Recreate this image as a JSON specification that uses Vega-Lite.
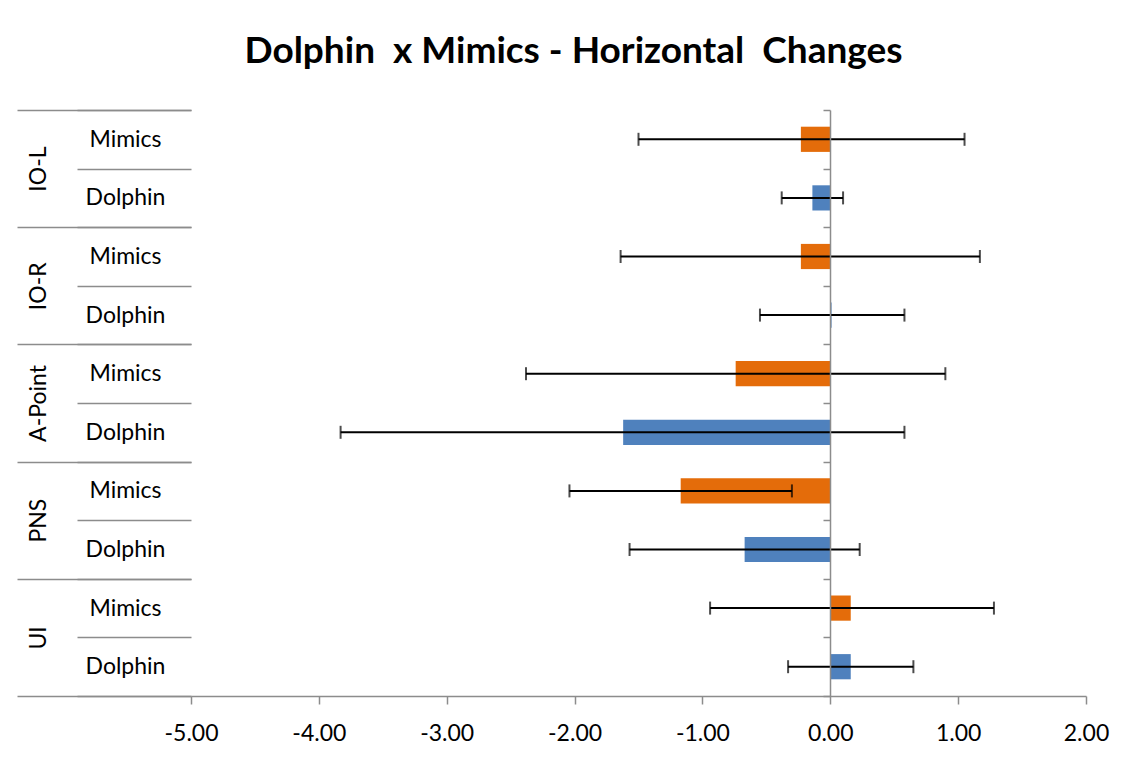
{
  "$schema": "https://vega.github.io/schema/vega-lite/v6.json",
  "width": 895,
  "height": 586,
  "autosize": {"type": "none"},
  "padding": {"left": 191, "top": 110, "right": 48, "bottom": 67},
  "background": "white",
  "config": {
    "view": {"stroke": null},
    "font": "Lato",
    "axis": {
      "labelFont": "Lato",
      "labelFontSize": 23,
      "labelColor": "black",
      "domainColor": "#8C8C8C",
      "tickColor": "#8C8C8C",
      "domainWidth": 1.5,
      "tickWidth": 1.5,
      "grid": false,
      "title": null
    }
  },
  "title": {
    "text": "Dolphin\u00a0 x Mimics - Horizontal\u00a0 Changes",
    "font": "Lato",
    "fontSize": 37,
    "fontWeight": "bold",
    "color": "black",
    "anchor": "middle",
    "frame": "group",
    "dx": -65,
    "offset": 28
  },
  "data": {
    "values": [
      {"group": "IO-L", "series": "Mimics", "key": "IO-L|Mimics", "value": -0.23, "lo": -1.50, "hi": 1.05},
      {"group": "IO-L", "series": "Dolphin", "key": "IO-L|Dolphin", "value": -0.14, "lo": -0.38, "hi": 0.10},
      {"group": "IO-R", "series": "Mimics", "key": "IO-R|Mimics", "value": -0.23, "lo": -1.64, "hi": 1.17},
      {"group": "IO-R", "series": "Dolphin", "key": "IO-R|Dolphin", "value": 0.01, "lo": -0.55, "hi": 0.58},
      {"group": "A-Point", "series": "Mimics", "key": "A-Point|Mimics", "value": -0.74, "lo": -2.38, "hi": 0.90},
      {"group": "A-Point", "series": "Dolphin", "key": "A-Point|Dolphin", "value": -1.62, "lo": -3.83, "hi": 0.58},
      {"group": "PNS", "series": "Mimics", "key": "PNS|Mimics", "value": -1.17, "lo": -2.04, "hi": -0.30},
      {"group": "PNS", "series": "Dolphin", "key": "PNS|Dolphin", "value": -0.67, "lo": -1.57, "hi": 0.23},
      {"group": "UI", "series": "Mimics", "key": "UI|Mimics", "value": 0.16, "lo": -0.94, "hi": 1.28},
      {"group": "UI", "series": "Dolphin", "key": "UI|Dolphin", "value": 0.16, "lo": -0.33, "hi": 0.65}
    ]
  },
  "layer": [
    {
      "mark": {"type": "bar", "height": {"band": 0.43}},
      "encoding": {
        "y": {
          "field": "key", "type": "nominal", "sort": null,
          "scale": {"type": "band", "padding": 0},
          "axis": {
            "orient": "left", "tickBand": "extent", "tickSize": 114, "domain": false,
            "labelExpr": "split(datum.value, '|')[1]",
            "labelAlign": "center", "labelBaseline": "middle", "labelPadding": -48,
            "labelOverlap": false
          }
        },
        "x": {
          "field": "value", "type": "quantitative",
          "scale": {"domain": [-5, 2], "nice": false, "zero": false},
          "axis": {
            "values": [-5, -4, -3, -2, -1, 0, 1, 2],
            "labelExpr": "(datum.value < 0 ? '-' : '') + format(abs(datum.value), '.2f')",
            "tickSize": 8, "labelFlush": false, "labelPadding": 18, "labelOverlap": false
          }
        },
        "color": {
          "field": "series", "type": "nominal",
          "scale": {"domain": ["Dolphin", "Mimics"], "range": ["#4F81BD", "#E46C0A"]},
          "legend": null
        }
      }
    },
    {
      "mark": {"type": "rule", "color": "black", "strokeWidth": 2},
      "encoding": {
        "y": {
          "field": "key", "type": "nominal", "sort": null,
          "scale": {"type": "band", "padding": 0},
          "axis": {
            "orient": "left", "offset": -639, "tickBand": "extent", "tickSize": 7,
            "labels": false, "zindex": 1
          }
        },
        "x": {"field": "lo", "type": "quantitative"},
        "x2": {"field": "hi"}
      }
    },
    {
      "mark": {"type": "tick", "color": "black", "thickness": 2, "size": 13},
      "encoding": {
        "y": {"field": "key", "type": "nominal", "sort": null, "scale": {"type": "band", "padding": 0}, "axis": null},
        "x": {"field": "lo", "type": "quantitative"}
      }
    },
    {
      "mark": {"type": "tick", "color": "black", "thickness": 2, "size": 13},
      "encoding": {
        "y": {"field": "key", "type": "nominal", "sort": null, "scale": {"type": "band", "padding": 0}, "axis": null},
        "x": {"field": "hi", "type": "quantitative"}
      }
    },
    {
      "mark": {"type": "point", "opacity": 0},
      "encoding": {
        "y": {
          "field": "group", "type": "nominal", "sort": null,
          "scale": {"type": "band", "padding": 0},
          "axis": {
            "orient": "left", "tickBand": "extent", "tickSize": 174, "domain": false,
            "labelAngle": -90, "labelAlign": "center", "labelBaseline": "middle",
            "labelPadding": -21, "labelOverlap": false
          }
        }
      }
    }
  ],
  "resolve": {"scale": {"y": "independent"}, "axis": {"y": "independent"}}
}
